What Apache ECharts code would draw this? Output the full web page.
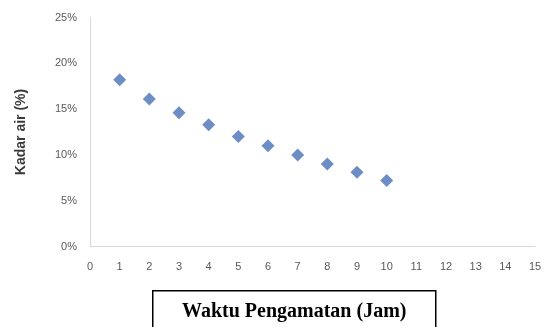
<!DOCTYPE html>
<html>
<head>
<meta charset="utf-8">
<script src="https://cdn.jsdelivr.net/npm/echarts@6/dist/echarts.min.js"></script>
<style>
  html, body { margin: 0; padding: 0; background: #fff; }
  #chart { width: 545px; height: 327px; }
</style>
</head>
<body>
<div id="chart"></div>
<script>
// Observation time (hours) and measured moisture content (%)
const hours = [1, 2, 3, 4, 5, 6, 7, 8, 9, 10];
const moisture = [18.2, 16.1, 14.6, 13.3, 12.0, 11.0, 10.0, 9.0, 8.1, 7.2];

const xTicks = { min: 0, max: 15, step: 1 };
const yTicks = { min: 0, max: 25, step: 5 };

const xAxisTitle = 'Waktu Pengamatan (Jam)';
const yAxisTitle = 'Kadar air (%)';

const points = hours.map((h, i) => [h, moisture[i]]);

const chart = echarts.init(document.getElementById('chart'), null, { renderer: 'canvas' });

const tickFont = { color: '#595959', fontSize: 11, fontFamily: 'Liberation Sans, Arial, sans-serif' };

chart.setOption({
  animation: false,
  grid: { left: 90, right: 10, top: 17.5, bottom: 80.5, containLabel: false },
  xAxis: {
    type: 'value',
    min: xTicks.min, max: xTicks.max, interval: xTicks.step,
    axisLine: { show: true, lineStyle: { color: '#d9d9d9', width: 1 } },
    axisTick: { show: false },
    splitLine: { show: false },
    axisLabel: Object.assign({ margin: 15 }, tickFont)
  },
  yAxis: {
    type: 'value',
    min: yTicks.min, max: yTicks.max, interval: yTicks.step,
    axisLine: { show: true, lineStyle: { color: '#d9d9d9', width: 1 } },
    axisTick: { show: false },
    splitLine: { show: false },
    axisLabel: Object.assign({ margin: 13, formatter: v => v + '%' }, tickFont),
    name: yAxisTitle,
    nameLocation: 'middle',
    nameGap: 62,
    nameRotate: 90,
    nameTextStyle: { color: '#3a3a3a', fontSize: 14, fontWeight: 'bold', fontFamily: 'Liberation Sans, Arial, sans-serif' }
  },
  series: [{
    type: 'scatter',
    data: points,
    symbol: 'diamond',
    symbolSize: 13,
    itemStyle: { color: '#4870b6' }
  }],
  graphic: [{
    type: 'group',
    left: 152,
    top: 290,
    children: [
      {
        type: 'rect',
        shape: { x: 0, y: 0, width: 283, height: 40 },
        style: { fill: '#ffffff', stroke: '#000000', lineWidth: 1.5 }
      },
      {
        type: 'text',
        x: 141.5,
        y: 21,
        style: {
          text: xAxisTitle,
          fill: '#000000',
          font: 'bold 20px "Liberation Serif", "Times New Roman", serif',
          align: 'center',
          verticalAlign: 'middle'
        }
      }
    ]
  }]
});
</script>
</body>
</html>
